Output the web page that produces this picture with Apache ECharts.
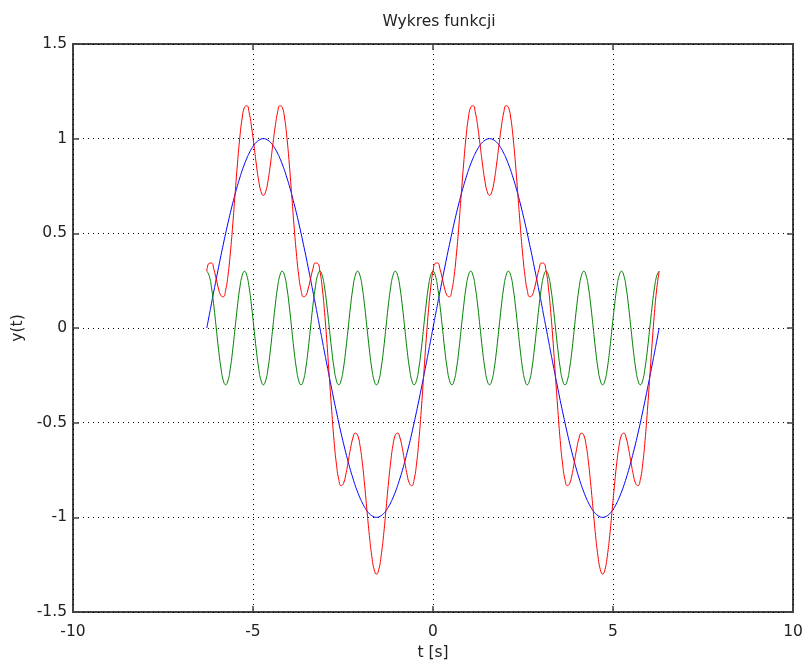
<!DOCTYPE html>
<html>
<head>
<meta charset="utf-8">
<script src="https://cdn.jsdelivr.net/npm/echarts@6/dist/echarts.min.js"></script>
<style>html,body{margin:0;padding:0;background:#fff}#c{width:807px;height:663px}</style>
</head>
<body>
<div id="c"></div>
<script>
// t values (s), from -2π to 2π
const tValues = [-6.283,-6.218,-6.152,-6.087,-6.021,-5.956,-5.890,-5.825,-5.760,-5.694,-5.629,-5.563,-5.498,-5.432,-5.367,-5.301,-5.236,-5.171,-5.105,-5.040,-4.974,-4.909,-4.843,-4.778,-4.712,-4.647,-4.581,-4.516,-4.451,-4.385,-4.320,-4.254,-4.189,-4.123,-4.058,-3.992,-3.927,-3.862,-3.796,-3.731,-3.665,-3.600,-3.534,-3.469,-3.403,-3.338,-3.272,-3.207,
-3.142,-3.076,-3.011,-2.945,-2.880,-2.814,-2.749,-2.683,-2.618,-2.553,-2.487,-2.422,-2.356,-2.291,-2.225,-2.160,-2.094,-2.029,-1.963,-1.898,-1.833,-1.767,-1.702,-1.636,-1.571,-1.505,-1.440,-1.374,-1.309,-1.244,-1.178,-1.113,-1.047,-0.982,-0.916,-0.851,-0.785,-0.720,-0.654,-0.589,-0.524,-0.458,-0.393,-0.327,-0.262,-0.196,-0.131,-0.065,
0,0.065,0.131,0.196,0.262,0.327,0.393,0.458,0.524,0.589,0.654,0.720,0.785,0.851,0.916,0.982,1.047,1.113,1.178,1.244,1.309,1.374,1.440,1.505,1.571,1.636,1.702,1.767,1.833,1.898,1.963,2.029,2.094,2.160,2.225,2.291,2.356,2.422,2.487,2.553,2.618,2.683,2.749,2.814,2.880,2.945,3.011,3.076,
3.142,3.207,3.272,3.338,3.403,3.469,3.534,3.600,3.665,3.731,3.796,3.862,3.927,3.992,4.058,4.123,4.189,4.254,4.320,4.385,4.451,4.516,4.581,4.647,4.712,4.778,4.843,4.909,4.974,5.040,5.105,5.171,5.236,5.301,5.367,5.432,5.498,5.563,5.629,5.694,5.760,5.825,5.890,5.956,6.021,6.087,6.152,6.218,6.283];

// blue curve
const blueValues = [0,0.065,0.131,0.195,0.259,0.321,0.383,0.442,0.5,0.556,0.609,0.659,0.707,0.752,0.793,0.832,0.866,0.897,0.924,0.947,0.966,0.981,0.991,0.998,1,0.998,0.991,0.981,0.966,0.947,0.924,0.897,0.866,0.832,0.793,0.752,0.707,0.659,0.609,0.556,0.5,0.442,0.383,0.321,0.259,0.195,0.131,0.065,
0,-0.065,-0.131,-0.195,-0.259,-0.321,-0.383,-0.442,-0.5,-0.556,-0.609,-0.659,-0.707,-0.752,-0.793,-0.832,-0.866,-0.897,-0.924,-0.947,-0.966,-0.981,-0.991,-0.998,-1,-0.998,-0.991,-0.981,-0.966,-0.947,-0.924,-0.897,-0.866,-0.832,-0.793,-0.752,-0.707,-0.659,-0.609,-0.556,-0.5,-0.442,-0.383,-0.321,-0.259,-0.195,-0.131,-0.065,
0,0.065,0.131,0.195,0.259,0.321,0.383,0.442,0.5,0.556,0.609,0.659,0.707,0.752,0.793,0.832,0.866,0.897,0.924,0.947,0.966,0.981,0.991,0.998,1,0.998,0.991,0.981,0.966,0.947,0.924,0.897,0.866,0.832,0.793,0.752,0.707,0.659,0.609,0.556,0.5,0.442,0.383,0.321,0.259,0.195,0.131,0.065,
0,-0.065,-0.131,-0.195,-0.259,-0.321,-0.383,-0.442,-0.5,-0.556,-0.609,-0.659,-0.707,-0.752,-0.793,-0.832,-0.866,-0.897,-0.924,-0.947,-0.966,-0.981,-0.991,-0.998,-1,-0.998,-0.991,-0.981,-0.966,-0.947,-0.924,-0.897,-0.866,-0.832,-0.793,-0.752,-0.707,-0.659,-0.609,-0.556,-0.5,-0.442,-0.383,-0.321,-0.259,-0.195,-0.131,-0.065,0];

// green curve
const greenValues = [0.3,0.277,0.212,0.115,0,-0.115,-0.212,-0.277,-0.3,-0.277,-0.212,-0.115,0,0.115,0.212,0.277,
0.3,0.277,0.212,0.115,0,-0.115,-0.212,-0.277,-0.3,-0.277,-0.212,-0.115,0,0.115,0.212,0.277,
0.3,0.277,0.212,0.115,0,-0.115,-0.212,-0.277,-0.3,-0.277,-0.212,-0.115,0,0.115,0.212,0.277,
0.3,0.277,0.212,0.115,0,-0.115,-0.212,-0.277,-0.3,-0.277,-0.212,-0.115,0,0.115,0.212,0.277,
0.3,0.277,0.212,0.115,0,-0.115,-0.212,-0.277,-0.3,-0.277,-0.212,-0.115,0,0.115,0.212,0.277,
0.3,0.277,0.212,0.115,0,-0.115,-0.212,-0.277,-0.3,-0.277,-0.212,-0.115,0,0.115,0.212,0.277,
0.3,0.277,0.212,0.115,0,-0.115,-0.212,-0.277,-0.3,-0.277,-0.212,-0.115,0,0.115,0.212,0.277,
0.3,0.277,0.212,0.115,0,-0.115,-0.212,-0.277,-0.3,-0.277,-0.212,-0.115,0,0.115,0.212,0.277,
0.3,0.277,0.212,0.115,0,-0.115,-0.212,-0.277,-0.3,-0.277,-0.212,-0.115,0,0.115,0.212,0.277,
0.3,0.277,0.212,0.115,0,-0.115,-0.212,-0.277,-0.3,-0.277,-0.212,-0.115,0,0.115,0.212,0.277,
0.3,0.277,0.212,0.115,0,-0.115,-0.212,-0.277,-0.3,-0.277,-0.212,-0.115,0,0.115,0.212,0.277,
0.3,0.277,0.212,0.115,0,-0.115,-0.212,-0.277,-0.3,-0.277,-0.212,-0.115,0,0.115,0.212,0.277,
0.3];

// red curve
const redValues = [0.3,0.342,0.343,0.310,0.259,0.206,0.171,0.165,0.2,0.279,0.397,0.544,0.707,0.867,1.005,1.109,1.166,1.174,1.136,1.062,0.966,0.866,0.779,0.721,0.7,0.721,0.779,0.866,0.966,1.062,1.136,1.174,1.166,1.109,1.005,0.867,0.707,0.544,0.397,0.279,0.2,0.165,0.171,0.206,0.259,0.310,0.343,0.342,
0.3,0.212,0.081,-0.080,-0.259,-0.436,-0.595,-0.719,-0.8,-0.833,-0.821,-0.774,-0.707,-0.637,-0.581,-0.555,-0.566,-0.620,-0.712,-0.832,-0.966,-1.096,-1.203,-1.275,-1.3,-1.275,-1.203,-1.096,-0.966,-0.832,-0.712,-0.620,-0.566,-0.555,-0.581,-0.637,-0.707,-0.774,-0.821,-0.833,-0.8,-0.719,-0.595,-0.436,-0.259,-0.080,0.081,0.212,
0.3,0.342,0.343,0.310,0.259,0.206,0.171,0.165,0.2,0.279,0.397,0.544,0.707,0.867,1.005,1.109,1.166,1.174,1.136,1.062,0.966,0.866,0.779,0.721,0.7,0.721,0.779,0.866,0.966,1.062,1.136,1.174,1.166,1.109,1.005,0.867,0.707,0.544,0.397,0.279,0.2,0.165,0.171,0.206,0.259,0.310,0.343,0.342,
0.3,0.212,0.081,-0.080,-0.259,-0.436,-0.595,-0.719,-0.8,-0.833,-0.821,-0.774,-0.707,-0.637,-0.581,-0.555,-0.566,-0.620,-0.712,-0.832,-0.966,-1.096,-1.203,-1.275,-1.3,-1.275,-1.203,-1.096,-0.966,-0.832,-0.712,-0.620,-0.566,-0.555,-0.581,-0.637,-0.707,-0.774,-0.821,-0.833,-0.8,-0.719,-0.595,-0.436,-0.259,-0.080,0.081,0.212,0.3];

const xTicks = [-10, -5, 0, 5, 10];
const yTicks = [-1.5, -1, -0.5, 0, 0.5, 1, 1.5];

function pairs(ys) { return tValues.map((t, i) => [t, ys[i]]); }

const font = 'DejaVu Sans';
const fs = 15.5;
const txt = '#222';
const chart = echarts.init(document.getElementById('c'), null, {renderer: 'canvas'});
const dotted = {show: true, lineStyle: {color: '#000', width: 1, type: [1, 4]}};
const tick = {show: true, inside: true, length: 6, lineStyle: {color: '#444', width: 1.5}};
const noLine = {show: false, onZero: false};
const xBase = {type: 'value', min: xTicks[0], max: xTicks[xTicks.length - 1], interval: 5};
const yBase = {type: 'value', min: yTicks[0], max: yTicks[yTicks.length - 1], interval: 0.5};
chart.setOption({
  animation: false,
  backgroundColor: '#fff',
  title: {text: 'Wykres funkcji', left: 434, textAlign: 'center', top: 9,
    textStyle: {fontFamily: font, fontSize: fs, fontWeight: 'normal', color: txt}},
  grid: {left: 73, right: 14, top: 44, bottom: 51, show: true, borderColor: '#444', borderWidth: 2,
    containLabel: false, outerBoundsMode: 'none'},
  xAxis: [Object.assign({}, xBase, {
    position: 'bottom',
    name: 't [s]', nameLocation: 'middle', nameGap: 33,
    nameTextStyle: {fontFamily: font, fontSize: fs, color: txt},
    axisLine: noLine, axisTick: tick,
    axisLabel: {fontFamily: font, fontSize: fs, color: txt, margin: 12},
    splitLine: dotted}),
    Object.assign({}, xBase, {position: 'top', axisLine: noLine, axisTick: tick,
    axisLabel: {show: false}, splitLine: {show: false}})],
  yAxis: [Object.assign({}, yBase, {
    position: 'left',
    name: 'y(t)', nameLocation: 'middle', nameGap: 43, nameRotate: 90,
    nameTextStyle: {fontFamily: font, fontSize: fs, color: txt},
    axisLine: noLine, axisTick: tick,
    axisLabel: {fontFamily: font, fontSize: fs, color: txt, margin: 6},
    splitLine: dotted}),
    Object.assign({}, yBase, {position: 'right', axisLine: noLine, axisTick: tick,
    axisLabel: {show: false}, splitLine: {show: false}})],
  series: [
    {type: 'line', data: pairs(blueValues), smooth: true, showSymbol: false, lineStyle: {color: '#0000ff', width: 1}},
    {type: 'line', data: pairs(greenValues), smooth: true, showSymbol: false, lineStyle: {color: '#008000', width: 1}},
    {type: 'line', data: pairs(redValues), smooth: true, showSymbol: false, lineStyle: {color: '#ff0000', width: 1}}
  ]
});
</script>
</body>
</html>
